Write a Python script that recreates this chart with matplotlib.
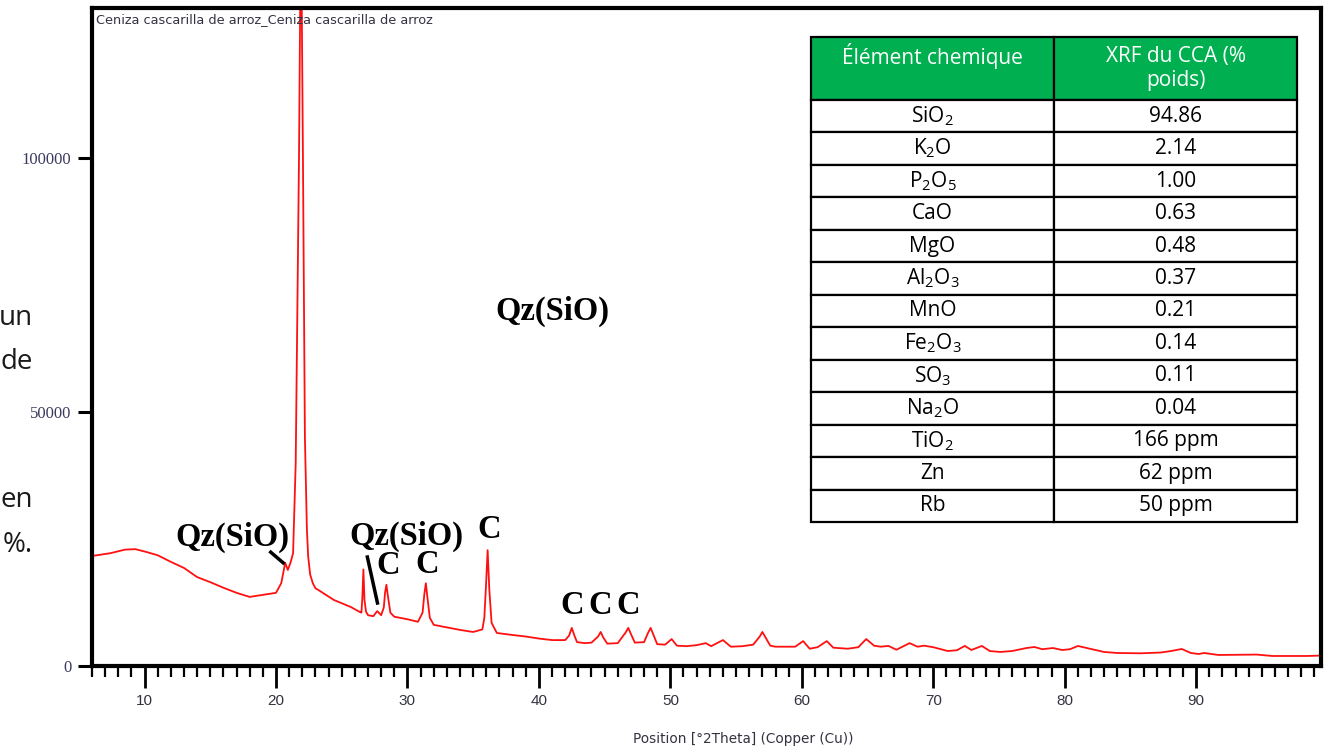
import matplotlib.pyplot as plt
from matplotlib.ticker import MultipleLocator

# Diffractogramme : position 2theta et intensité (coups)
two_theta = [6.0, 7.4, 8.5, 9.3, 10.2, 11.0, 12.0, 13.0, 14.0, 15.0, 16.0, 17.0, 18.0, 19.0,
             20.0, 20.4, 20.7, 20.9, 21.1, 21.3, 21.5, 21.75, 21.9, 22.05, 22.2, 22.35, 22.45,
             22.6, 22.8, 23.0, 23.2, 24.4, 25.7, 26.4, 26.5, 26.57, 26.65, 26.73, 26.85, 27.0,
             27.4, 27.7, 28.0, 28.2, 28.3, 28.4, 28.5, 28.7, 29.0, 30.0, 30.8, 31.15, 31.28,
             31.4, 31.52, 31.7, 32.0, 33.0, 34.0, 35.0, 35.7, 35.85, 35.97, 36.1, 36.23,
             36.4, 36.8, 38.0, 39.0, 40.0, 41.0, 42.0, 42.3, 42.5, 42.7, 42.9, 43.5, 44.0,
             44.5, 44.7, 44.9, 45.2, 46.0, 46.6, 46.8, 47.0, 47.3, 48.0, 48.3, 48.5, 48.7,
             49.0, 49.6, 50.1, 50.5, 51.2, 52.0, 52.7, 53.1, 54.0, 54.6, 55.5, 56.3, 56.8,
             57.0, 57.2, 57.6, 58.0, 59.5, 60.1, 60.6, 61.2, 61.9, 62.4, 63.5, 64.3, 64.9,
             65.5, 66.0, 66.6, 67.2, 68.2, 68.8, 69.3, 70.0, 71.1, 71.8, 72.4, 72.9, 73.7,
             74.3, 75.1, 76.0, 77.1, 77.7, 78.3, 79.1, 79.8, 80.4, 81.0, 82.0, 83.0, 84.0,
             85.8, 87.3, 88.1, 88.9, 89.6, 90.2, 90.6, 91.7, 94.6, 95.8, 98.4, 99.5]
counts = [21650, 22200, 22900, 23000, 22400, 21800, 20500, 19300, 17500, 16500, 15400, 14400,
          13600, 14000, 14400, 16300, 20300, 18900, 20300, 22200, 40000, 100000, 150000,
          100000, 45000, 27000, 21500, 18000, 16300, 15300, 15000, 13000, 11600, 10600,
          10500, 13500, 19000, 13000, 10700, 10000, 9800, 10800, 10000, 11500, 14500, 16000,
          14000, 10500, 9700, 9200, 8700, 10500, 14000, 16300, 13500, 9500, 8100, 7600, 7100,
          6700, 7200, 9500, 15500, 22800, 15000, 8500, 6500, 6100, 5800, 5400, 5100, 5100,
          6000, 7500, 6000, 4700, 4500, 4600, 5800, 6700, 5600, 4400, 4500, 6600, 7500, 6300,
          4600, 4700, 6500, 7500, 6200, 4300, 4200, 5300, 4000, 3900, 4100, 4500, 3900, 5100,
          3800, 3900, 4200, 5800, 6700, 5800, 4000, 3800, 3800, 4900, 3400, 3700, 4900, 3600,
          3400, 3700, 5300, 4000, 3800, 3950, 3200, 4500, 3800, 4000, 3700, 2950, 3100, 3950,
          3150, 3950, 2950, 2760, 2950, 3540, 3740, 3300, 3540, 3150, 3300, 3940, 3350, 2760,
          2560, 2500, 2650, 2950, 3350, 2560, 2360, 2560, 2170, 2250, 1970, 1970, 2050]

# Tableau XRF
headers = ['Élément chemique\n', 'XRF du CCA (%\npoids)']
elements = ['SiO$_2$', 'K$_2$O', 'P$_2$O$_5$', 'CaO', 'MgO', 'Al$_2$O$_3$', 'MnO',
            'Fe$_2$O$_3$', 'SO$_3$', 'Na$_2$O', 'TiO$_2$', 'Zn', 'Rb']
xrf_values = ['94.86', '2.14', '1.00', '0.63', '0.48', '0.37', '0.21', '0.14', '0.11',
              '0.04', '166 ppm', '62 ppm', '50 ppm']

plt.rcParams['mathtext.fontset'] = 'custom'
plt.rcParams['mathtext.rm'] = 'Open Sans'
plt.rcParams['mathtext.default'] = 'regular'

fig = plt.figure(figsize=(13.27, 7.5), dpi=100)

# texte de la page coupé à gauche
for txt, yy in [('un', 318), ('de', 362), ('en', 500), ('%.', 545)]:
    fig.text(33 / 1327, 1 - yy / 750, txt, ha='right', va='center', fontsize=20,
             family='Open Sans', color='#1a1a1a')

ax = fig.add_axes([0.0693, 0.112, 0.9262, 0.8773])
ax.plot(two_theta, counts, color='#ff1010', lw=1.3)
ax.set_xlim(6, 99.5)
ax.set_ylim(0, 129500)

for s in ax.spines.values():
    s.set_linewidth(3)
ax.xaxis.set_major_locator(MultipleLocator(10))
ax.xaxis.set_minor_locator(MultipleLocator(1))
ax.set_yticks([0, 50000, 100000])
ax.tick_params(axis='x', which='major', direction='out', length=16, width=2, pad=4,
               labelsize=11, labelcolor='#333340')
ax.tick_params(axis='x', which='minor', direction='out', length=8, width=1.6)
ax.tick_params(axis='y', direction='out', length=10, width=2.2, pad=5,
               labelsize=12, labelcolor='#3a3a60')
for lab in ax.get_xticklabels():
    lab.set_family('Liberation Sans')
for lab in ax.get_yticklabels():
    lab.set_family('Liberation Serif')

ax.set_xlabel('Position [°2Theta] (Copper (Cu))', fontsize=9.8, family='DejaVu Sans',
              color='#333340')
ax.xaxis.set_label_coords(0.5297, -0.1)
ax.text(0.003, 0.983, 'Ceniza cascarilla de arroz_Ceniza cascarilla de arroz',
        transform=ax.transAxes, ha='left', va='center', fontsize=9.3,
        family='DejaVu Sans', color='#333344')

# étiquettes des phases
lbl = dict(family='Liberation Serif', weight='bold', fontsize=23.5, ha='center',
           va='center', color='black')
ax.text(16.7, 25400, 'Qz(SiO)', **lbl)
ax.text(41.0, 69700, 'Qz(SiO)', **lbl)
ax.text(29.9, 25600, 'Qz(SiO)', **lbl)
ax.text(28.5, 19700, 'C', **lbl)
ax.text(31.5, 19900, 'C', **lbl)
ax.text(36.2, 26800, 'C', **lbl)
for xc in [42.5, 44.7, 46.8]:
    ax.text(xc, 12000, 'C', **lbl)
ax.plot([19.6, 20.55], [22400, 20300], color='black', lw=2.5)
ax.plot([26.95, 27.72], [21450, 12400], color='black', lw=2.5)

# tableau de composition chimique
tax = fig.add_axes([0.6112, 0.304, 0.3662, 0.6467])
tax.axis('off')
tbl = tax.table(cellText=[list(r) for r in zip(elements, xrf_values)], colLabels=headers,
                cellLoc='center', bbox=[0, 0, 1, 1])
tbl.auto_set_font_size(False)
tbl.set_fontsize(15)
for (r, c), cell in tbl.get_celld().items():
    cell.set_linewidth(1.6)
    cell.set_edgecolor('black')
    cell.get_text().set_family('Open Sans')
    if r == 0:
        cell.set_facecolor('#00B050')
        cell.get_text().set_color('white')
        cell.set_height(cell.get_height() * 1.94)

fig.savefig('out.png', dpi=100)
